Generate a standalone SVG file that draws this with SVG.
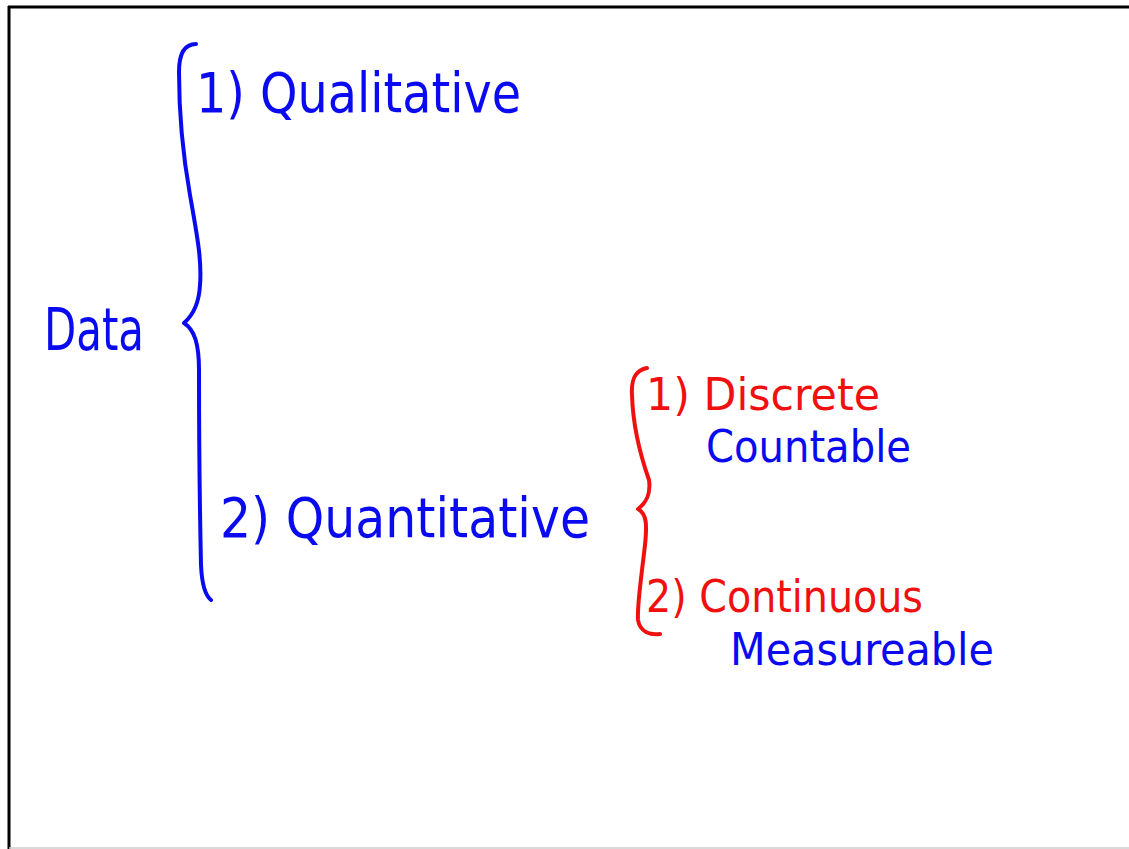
<svg xmlns="http://www.w3.org/2000/svg" width="1129" height="849" viewBox="0 0 1129 849">
<style>
.b{fill:#0a0af0}
.r{fill:#f01010}
text{font-family:"DejaVu Sans Condensed","DejaVu Sans",sans-serif;}
.br{fill:none;stroke-width:4;stroke-linecap:round;stroke-linejoin:round}
</style>
<rect x="0" y="0" width="1129" height="849" fill="#ffffff"/>
<line x1="8" y1="7" x2="1129" y2="7" stroke="#000" stroke-width="3"/>
<line x1="9" y1="6" x2="9" y2="849" stroke="#000" stroke-width="3"/>
<line x1="9" y1="848" x2="1129" y2="848" stroke="#cccccc" stroke-width="1.5"/>
<g id="braces">
<path class="br" stroke="#0a0af0" d="M196,44 C186,44 179,52 179,72 C179,110 182,150 190,195 C197,235 202,260 200,285 C199,305 192,316 184,323 C195,330 199,345 199,370 C199,450 200,520 201,565 C202,588 206,596 211,600"/>
<path class="br" stroke="#f01010" d="M647,368 C636,370 631,378 632,395 C633,430 642,460 649,480 C651,495 646,503 638,509 C647,514 647,525 645,545 C641,580 637,605 638,620 C640,632 650,635 660,634"/>
</g>
<g id="data"><text class="b" x="44" y="350" font-size="58" textLength="100" lengthAdjust="spacingAndGlyphs">Data</text></g>
<g id="qualitative"><text class="b" x="196" y="112" font-size="56" textLength="325" lengthAdjust="spacingAndGlyphs">1) Qualitative</text></g>
<g id="quantitative"><text class="b" x="220" y="537" font-size="56" textLength="370" lengthAdjust="spacingAndGlyphs">2) Quantitative</text></g>
<g id="discrete"><text class="r" x="646" y="410" font-size="44" textLength="234" lengthAdjust="spacingAndGlyphs">1) Discrete</text></g>
<g id="countable"><text class="b" x="706" y="462" font-size="44" textLength="205" lengthAdjust="spacingAndGlyphs">Countable</text></g>
<g id="continuous"><text class="r" x="646" y="612" font-size="44" textLength="277" lengthAdjust="spacingAndGlyphs">2) Continuous</text></g>
<g id="measureable"><text class="b" x="730" y="665" font-size="44" textLength="264" lengthAdjust="spacingAndGlyphs">Measureable</text></g>
</svg>
